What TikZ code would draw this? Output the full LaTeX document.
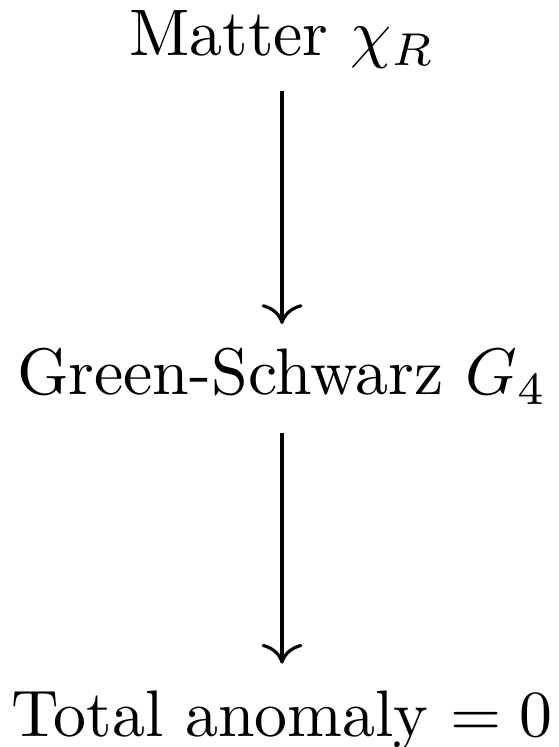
\documentclass[tikz,border=0pt]{standalone}
\usetikzlibrary{arrows.meta}
\begin{document}
\begin{tikzpicture}[x=0.152pt,y=-0.152pt,
  lbl/.style={anchor=base,inner sep=0pt,text height=7pt,text depth=2pt},
  arr/.style={line width=0.48pt,-{Computer Modern Rightarrow[width=6.2pt,length=3pt]},shorten <=3.1pt,shorten >=3.6pt}]
\useasboundingbox (0,0) rectangle (558,747);
\node[lbl] (m) at (282,56) {Matter $\chi_R$};
\node[lbl] (g) at (282,395) {Green-Schwarz $G_4$};
\node[lbl] (t) at (282,736) {Total anomaly $= 0$};
\draw[arr] (m) -- (g);
\draw[arr,shorten <=3.6pt,shorten >=3.8pt] (g) -- (t);
\end{tikzpicture}
\end{document}
